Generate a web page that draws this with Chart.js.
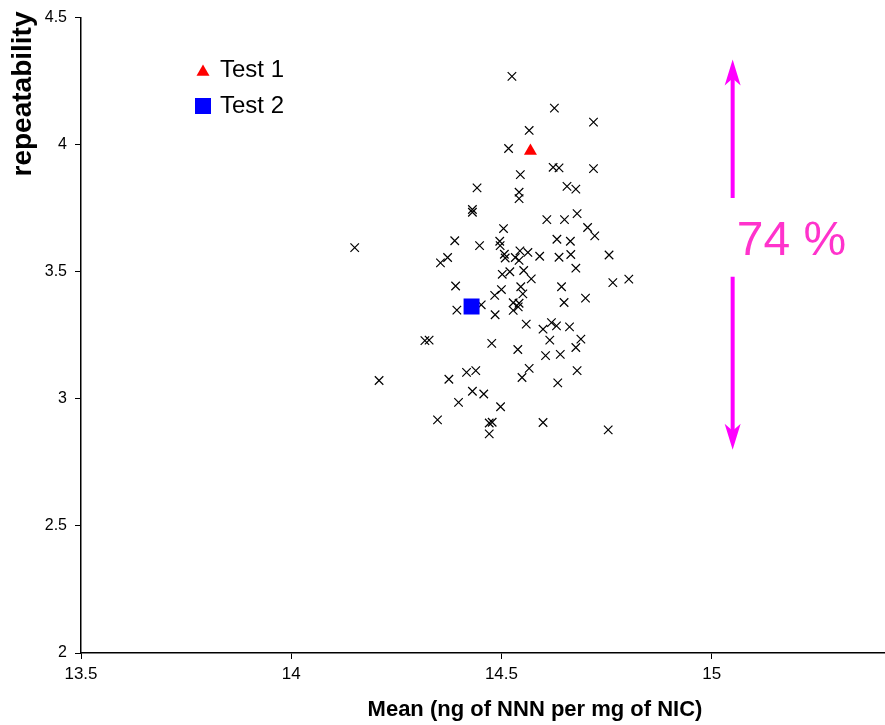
<!DOCTYPE html>
<html>
<head>
<meta charset="utf-8">
<script src="https://cdn.jsdelivr.net/npm/chart.js@4.4.1/dist/chart.umd.min.js"></script>
<style>
  body { margin: 0; background: #fff; }
</style>
</head>
<body>
<canvas id="mycanvas" width="885" height="725"></canvas>
<script>
// lab samples: mean vs repeatability
var sampleMean = [
  14.525, 14.626, 14.719, 14.566, 14.517, 14.623, 14.637, 14.719, 14.545, 14.442,
  14.656, 14.677, 14.542, 14.542, 14.431, 14.431, 14.680, 14.608, 14.650, 14.505,
  14.705, 14.722, 14.151, 14.389, 14.448, 14.496, 14.497, 14.632, 14.664, 14.507,
  14.509, 14.544, 14.563, 14.533, 14.542, 14.591, 14.637, 14.665, 14.756, 14.355,
  14.372, 14.502, 14.520, 14.553, 14.571, 14.677, 14.765, 14.803, 14.391, 14.500,
  14.546, 14.643, 14.484, 14.551, 14.700, 14.394, 14.452, 14.528, 14.542, 14.540,
  14.528, 14.649, 14.485, 14.559, 14.599, 14.619, 14.631, 14.662, 14.318, 14.328,
  14.477, 14.539, 14.615, 14.689, 14.677, 14.605, 14.640, 14.209, 14.375, 14.417,
  14.439, 14.549, 14.566, 14.680, 14.634, 14.431, 14.458, 14.398, 14.498, 14.348,
  14.471, 14.478, 14.599, 14.471, 14.754
];
var sampleRepeat = [
  4.269, 4.144, 4.089, 4.056, 3.985, 3.911, 3.909, 3.906, 3.882, 3.830,
  3.836, 3.825, 3.813, 3.788, 3.745, 3.734, 3.729, 3.705, 3.705, 3.670,
  3.674, 3.641, 3.595, 3.622, 3.603, 3.620, 3.603, 3.628, 3.620, 3.569,
  3.554, 3.582, 3.576, 3.556, 3.545, 3.561, 3.557, 3.568, 3.566, 3.535,
  3.556, 3.490, 3.500, 3.505, 3.472, 3.514, 3.457, 3.471, 3.444, 3.430,
  3.441, 3.441, 3.407, 3.413, 3.396, 3.349, 3.370, 3.378, 3.376, 3.362,
  3.348, 3.379, 3.331, 3.294, 3.274, 3.300, 3.287, 3.283, 3.229, 3.231,
  3.218, 3.194, 3.231, 3.235, 3.202, 3.170, 3.175, 3.072, 3.077, 3.104,
  3.111, 3.084, 3.120, 3.111, 3.063, 3.030, 3.019, 2.986, 2.969, 2.917,
  2.905, 2.908, 2.907, 2.862, 2.878
];
var test1Mean = [14.569];
var test1Repeat = [3.975];
var test2Mean = [14.429];
var test2Repeat = [3.363];

var xTicks = [13.5, 14, 14.5, 15];
var yTicks = [2, 2.5, 3, 3.5, 4, 4.5];
var xTitle = 'Mean (ng of NNN per mg of NIC)';
var yTitle = 'repeatability';
var spreadLabel = '74 %';

// the magenta arrow annotation, in data units
var spread = { x: 15.05, top: 4.335, gapTop: 3.79, gapBottom: 3.48, bottom: 2.80, labelX: 15.06, labelY: 3.566 };

var FONT = '"Liberation Sans", Arial, sans-serif';

function toPoints(xs, ys) {
  var pts = [];
  for (var i in xs) {
    pts.push({ x: xs[i], y: ys[i] });
  }
  return pts;
}

var datasets = [
  { label: 'Test 1', data: toPoints(test1Mean, test1Repeat), pointStyle: 'triangle', pointRadius: 7.5,
    backgroundColor: '#ff0000', borderColor: '#ff0000', borderWidth: 0 },
  { label: 'Test 2', data: toPoints(test2Mean, test2Repeat), pointStyle: 'rect', pointRadius: 11.3,
    backgroundColor: '#0000ff', borderColor: '#0000ff', borderWidth: 0 },
  { label: 'Samples', data: toPoints(sampleMean, sampleRepeat), pointStyle: 'crossRot', pointRadius: 6,
    backgroundColor: '#000', borderColor: '#000', borderWidth: 1.2 }
];

var decor = {
  id: 'decor',
  beforeDraw: function(chart) {
    var ctx = chart.ctx;
    ctx.save();
    ctx.fillStyle = '#fff';
    ctx.fillRect(0, 0, chart.width, chart.height);
    ctx.restore();
  },
  afterDraw: function(chart) {
    var ctx = chart.ctx;
    var xs = chart.scales.x, ys = chart.scales.y;
    var area = chart.chartArea;

    ctx.save();
    // axis titles
    ctx.fillStyle = '#000';
    ctx.font = 'bold 22px ' + FONT;
    ctx.textAlign = 'center';
    ctx.textBaseline = 'middle';
    ctx.fillText(xTitle, 535, 710);

    ctx.save();
    ctx.translate(23, 94);
    ctx.rotate(-Math.PI / 2);
    ctx.font = 'bold 28px ' + FONT;
    ctx.fillText(yTitle, 0, 0);
    ctx.restore();

    // legend inside the plot
    var lx = area.left + 122;
    var rows = [70, 106];
    for (var i = 0; i < 2; i++) {
      var ds = chart.data.datasets[i];
      ctx.fillStyle = ds.backgroundColor;
      ctx.strokeStyle = ds.borderColor;
      var ry = rows[i] + (ds.pointStyle === 'triangle' ? 2 : 0);
      Chart.helpers.drawPoint(ctx, { pointStyle: ds.pointStyle, radius: i === 0 ? 7.5 : 11.3, rotation: 0, borderWidth: 0 }, lx, ry);
      ctx.fillStyle = '#000';
      ctx.font = '24px ' + FONT;
      ctx.textAlign = 'left';
      ctx.textBaseline = 'middle';
      ctx.fillText(ds.label, lx + 17, rows[i]);
    }

    // spread arrow
    var ax = xs.getPixelForValue(spread.x);
    var tTop = ys.getPixelForValue(spread.top);
    var tBot = ys.getPixelForValue(spread.bottom);
    var g1 = ys.getPixelForValue(spread.gapTop);
    var g2 = ys.getPixelForValue(spread.gapBottom);
    ctx.strokeStyle = '#ff00ff';
    ctx.fillStyle = '#ff00ff';
    ctx.lineWidth = 4;
    ctx.beginPath();
    ctx.moveTo(ax, tTop + 18);
    ctx.lineTo(ax, g1);
    ctx.moveTo(ax, g2);
    ctx.lineTo(ax, tBot - 18);
    ctx.stroke();
    ctx.beginPath();
    ctx.moveTo(ax, tTop);
    ctx.lineTo(ax - 8, tTop + 26);
    ctx.lineTo(ax, tTop + 19);
    ctx.lineTo(ax + 8, tTop + 26);
    ctx.closePath();
    ctx.fill();
    ctx.beginPath();
    ctx.moveTo(ax, tBot);
    ctx.lineTo(ax - 8, tBot - 26);
    ctx.lineTo(ax, tBot - 19);
    ctx.lineTo(ax + 8, tBot - 26);
    ctx.closePath();
    ctx.fill();

    ctx.fillStyle = '#ff33cc';
    ctx.font = '48px ' + FONT;
    ctx.textAlign = 'left';
    ctx.textBaseline = 'alphabetic';
    ctx.fillText(spreadLabel, xs.getPixelForValue(spread.labelX), ys.getPixelForValue(spread.labelY));
    ctx.restore();
  }
};

var ctx = document.getElementById('mycanvas');
var myChart = new Chart(ctx, {
  type: 'scatter',
  data: { datasets: datasets },
  plugins: [decor],
  options: {
    responsive: false,
    animation: false,
    events: [],
    layout: { autoPadding: false, padding: { top: 16, right: 1, left: 0, bottom: 0 } },
    plugins: {
      legend: { display: false },
      tooltip: { enabled: false }
    },
    scales: {
      x: {
        type: 'linear',
        position: 'bottom',
        min: 13.5,
        max: 15.41,
        afterBuildTicks: function(s) { s.ticks = xTicks.map(function(v) { return { value: v }; }); },
        afterFit: function(s) { s.height = 72; },
        grid: { display: true, drawOnChartArea: false, drawTicks: true, tickLength: 6, color: '#000', lineWidth: 1 },
        border: { display: true, color: '#000', width: 1.5 },
        ticks: { color: '#000', font: { size: 17, family: FONT }, padding: 5, maxRotation: 0, autoSkip: false,
          callback: function(v) { return String(v); } }
      },
      y: {
        type: 'linear',
        min: 2,
        max: 4.5,
        afterBuildTicks: function(s) { s.ticks = yTicks.map(function(v) { return { value: v }; }); },
        afterFit: function(s) { s.width = 81; },
        grid: { display: true, drawOnChartArea: false, drawTicks: true, tickLength: 6, color: '#000', lineWidth: 1 },
        border: { display: true, color: '#000', width: 1.5 },
        ticks: { color: '#000', font: { size: 16, family: FONT }, padding: 8, autoSkip: false,
          callback: function(v) { return String(v); } }
      }
    }
  }
});
</script>
</body>
</html>
